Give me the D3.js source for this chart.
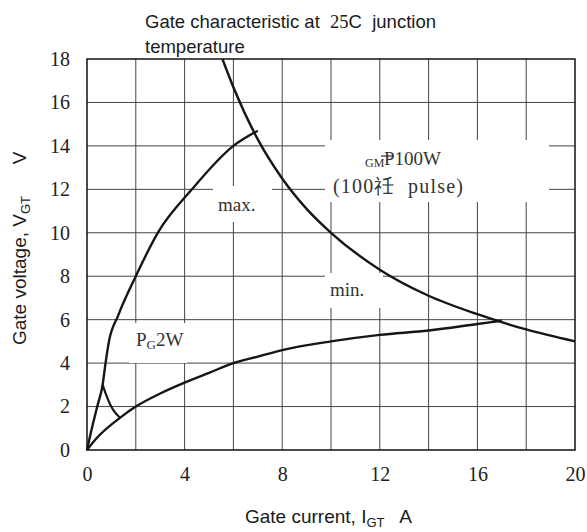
<!DOCTYPE html>
<html>
<head>
<meta charset="utf-8">
<script src="https://cdn.jsdelivr.net/npm/d3@7"></script>
<style>
  body { margin: 0; background: #fff; }
  svg { display: block; }
</style>
</head>
<body>
<svg id="chart" width="587" height="532"></svg>
<script>
// gate current (A) / gate voltage (V)
var maxCurveI = [0, 0.2, 0.42, 0.64, 0.76, 0.9, 1.28, 2.0, 2.9, 4.3, 6.0, 7.0];
var maxCurveV = [0, 1.0, 2.0, 3.0, 4.0, 5.0, 6.2, 8.0, 10.0, 12.0, 14.0, 14.7];

var minCurveI = [0, 0.4, 1.35, 2, 3, 4, 5, 6, 7, 8, 10, 12, 14, 16, 17];
var minCurveV = [0, 0.55, 1.48, 2.0, 2.6, 3.1, 3.55, 4.0, 4.3, 4.6, 5.0, 5.3, 5.5, 5.8, 5.95];

var pg2wI = [0.64, 0.8, 0.95, 1.1, 1.35];
var pg2wV = [3.0, 2.5, 2.1, 1.8, 1.48];

var pgmI = [5.55, 6, 7, 8, 9, 10, 12, 14, 16, 18, 20];
var pgmV = [18, 16.7, 14.3, 12.5, 11.1, 10, 8.3, 7.1, 6.25, 5.55, 5.0];

var xTicks = [0, 4, 8, 12, 16, 20];
var yTicks = [0, 2, 4, 6, 8, 10, 12, 14, 16, 18];
var xGrid = [2, 4, 6, 8, 10, 12, 14, 16, 18];
var yGrid = [2, 4, 6, 8, 10, 12, 14, 16];

var svg = d3.select("#chart");

var x = d3.scaleLinear().domain([0, 20]).range([87, 575]);
var y = d3.scaleLinear().domain([0, 18]).range([450, 59]);

var serif = "'Liberation Serif', 'DejaVu Serif', serif";
var sans = "'Liberation Sans', Arial, sans-serif";

// grid
svg.append("g")
  .selectAll("line")
  .data(xGrid)
  .enter()
  .append("line")
  .attr("x1", function(d) { return x(d); })
  .attr("x2", function(d) { return x(d); })
  .attr("y1", y(0))
  .attr("y2", y(18))
  .attr("stroke", "#444")
  .attr("stroke-width", 1);

svg.append("g")
  .selectAll("line")
  .data(yGrid)
  .enter()
  .append("line")
  .attr("x1", x(0))
  .attr("x2", x(20))
  .attr("y1", function(d) { return y(d); })
  .attr("y2", function(d) { return y(d); })
  .attr("stroke", "#444")
  .attr("stroke-width", 1);

// white boxes behind the labels, they cut the grid
var boxes = [
  [213, 186, 59, 36],
  [325, 273, 58, 35],
  [325, 140, 224, 62],
  [129, 323, 58, 40]
];
svg.append("g")
  .selectAll("rect")
  .data(boxes)
  .enter()
  .append("rect")
  .attr("x", function(d) { return d[0]; })
  .attr("y", function(d) { return d[1]; })
  .attr("width", function(d) { return d[2]; })
  .attr("height", function(d) { return d[3]; })
  .attr("fill", "#fff");

svg.append("rect")
  .attr("x", x(0))
  .attr("y", y(18))
  .attr("width", x(20) - x(0))
  .attr("height", y(0) - y(18))
  .attr("fill", "none")
  .attr("stroke", "#111")
  .attr("stroke-width", 1.5);

// curves
var line = d3.line()
  .x(function(d) { return x(d[0]); })
  .y(function(d) { return y(d[1]); })
  .curve(d3.curveMonotoneX);

function zipPts(a, b) {
  return a.map(function(v, i) { return [v, b[i]]; });
}

[zipPts(maxCurveI, maxCurveV), zipPts(minCurveI, minCurveV), zipPts(pgmI, pgmV)].forEach(function(pts) {
  svg.append("path")
    .attr("d", line(pts))
    .attr("fill", "none")
    .attr("stroke", "#161616")
    .attr("stroke-width", 2.4)
    .attr("stroke-linejoin", "round");
});

svg.append("path")
  .attr("d", d3.line()
    .x(function(d) { return x(d[0]); })
    .y(function(d) { return y(d[1]); })
    .curve(d3.curveMonotoneY)(zipPts(pg2wI, pg2wV)))
  .attr("fill", "none")
  .attr("stroke", "#161616")
  .attr("stroke-width", 2.2);

// axes (labels only)
var xAxis = svg.append("g")
  .attr("transform", "translate(0," + 467 + ")")
  .call(d3.axisBottom(x).tickValues(xTicks).tickSize(0).tickPadding(0));
xAxis.select(".domain").remove();
xAxis.selectAll("text")
  .attr("font-family", serif)
  .attr("font-size", 20)
  .attr("fill", "#222");

var yAxis = svg.append("g")
  .attr("transform", "translate(" + 70 + ",0)")
  .call(d3.axisLeft(y).tickValues(yTicks).tickSize(0).tickPadding(0));
yAxis.select(".domain").remove();
yAxis.selectAll("text")
  .attr("font-family", serif)
  .attr("font-size", 20)
  .attr("fill", "#222");

// title
var t1 = svg.append("text")
  .attr("x", 145)
  .attr("y", 28)
  .attr("font-family", sans)
  .attr("font-size", 18.5)
  .attr("fill", "#1a1a1a")
  .attr("xml:space", "preserve");
t1.append("tspan").text("Gate characteristic at  ");
t1.append("tspan").attr("font-family", serif).text("25");
t1.append("tspan").text("C  junction");

svg.append("text")
  .attr("x", 145)
  .attr("y", 53)
  .attr("font-family", sans)
  .attr("font-size", 18.5)
  .attr("fill", "#1a1a1a")
  .text("temperature");

// axis titles
var xt = svg.append("text")
  .attr("x", 245)
  .attr("y", 523)
  .attr("font-family", sans)
  .attr("font-size", 19)
  .attr("fill", "#1a1a1a")
  .attr("xml:space", "preserve");
xt.append("tspan").text("Gate current, I");
xt.append("tspan").attr("font-size", 13).attr("dy", 4).text("GT");
xt.append("tspan").attr("dy", -4).text("   A");

var yt = svg.append("text")
  .attr("transform", "translate(26,345) rotate(-90)")
  .attr("font-family", sans)
  .attr("font-size", 19)
  .attr("fill", "#1a1a1a")
  .attr("xml:space", "preserve");
yt.append("tspan").text("Gate voltage, V");
yt.append("tspan").attr("font-size", 13).attr("dy", 4).text("GT");
yt.append("tspan").attr("dy", -4).text("      V");

// curve labels
svg.append("text")
  .attr("x", 218).attr("y", 211)
  .attr("font-family", serif).attr("font-size", 19).attr("fill", "#333")
  .text("max.");

svg.append("text")
  .attr("x", 330).attr("y", 296)
  .attr("font-family", serif).attr("font-size", 19).attr("fill", "#333")
  .text("min.");

var pg = svg.append("text")
  .attr("x", 136).attr("y", 346)
  .attr("font-family", serif).attr("font-size", 19).attr("fill", "#333");
pg.append("tspan").text("P");
pg.append("tspan").attr("font-size", 13).attr("dy", 3).text("G");
pg.append("tspan").attr("dy", -3).text("2W");

svg.append("text")
  .attr("x", 365).attr("y", 167)
  .attr("font-family", serif).attr("font-size", 12).attr("fill", "#333")
  .text("GM");

svg.append("text")
  .attr("x", 384).attr("y", 165)
  .attr("font-family", serif).attr("font-size", 19).attr("fill", "#333")
  .text("P100W");

// stroke through the P, as in the original glyph
svg.append("line")
  .attr("x1", 381).attr("x2", 394)
  .attr("y1", 156).attr("y2", 156)
  .attr("stroke", "#333").attr("stroke-width", 1.2);

svg.append("text")
  .attr("x", 333).attr("y", 193)
  .attr("font-family", serif).attr("font-size", 20).attr("fill", "#333")
  .attr("letter-spacing", 1.2)
  .attr("xml:space", "preserve")
  .text("(100\u794D  pulse)");
</script>
</body>
</html>
